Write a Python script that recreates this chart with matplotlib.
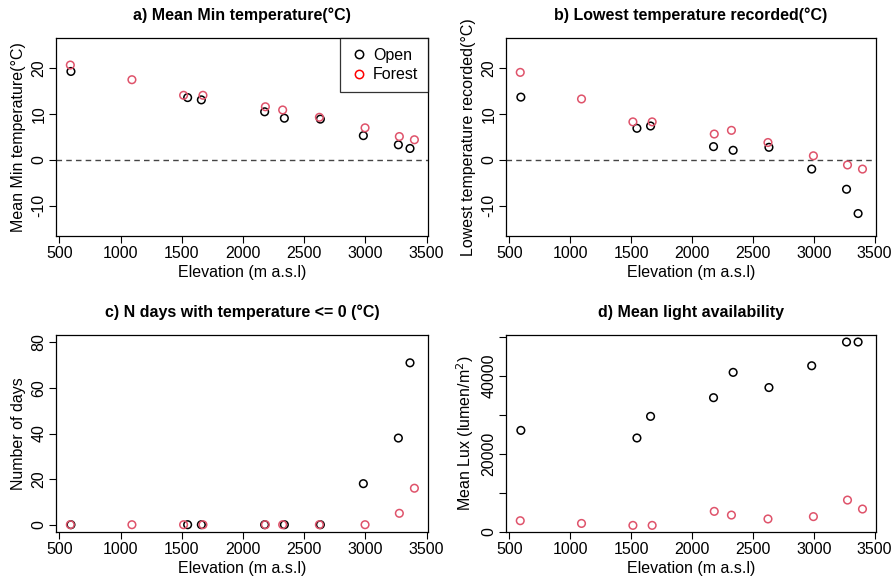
import matplotlib
matplotlib.use("Agg")
import matplotlib.pyplot as plt
from matplotlib.lines import Line2D

plt.rcParams['font.family'] = ['Liberation Sans', 'DejaVu Sans']
plt.rcParams['axes.unicode_minus'] = False

# elevations of the sites (m a.s.l)
elev_open = [595, 1548, 1660, 2177, 2338, 2632, 2983, 3269, 3364]
elev_forest = [590, 1093, 1515, 1673, 2183, 2324, 2624, 2997, 3277, 3400]

# a) mean min temperature
tmin_open = [19.3, 13.6, 13.1, 10.5, 9.1, 8.9, 5.3, 3.3, 2.5]
tmin_forest = [20.7, 17.5, 14.1, 14.1, 11.6, 10.9, 9.3, 7.0, 5.1, 4.4]

# b) lowest temperature recorded
tlow_open = [13.7, 6.9, 7.4, 2.9, 2.1, 2.75, -2.0, -6.4, -11.7]
tlow_forest = [19.1, 13.3, 8.3, 8.3, 5.65, 6.45, 3.8, 0.9, -1.1, -2.0]

# c) number of days with temperature <= 0
frost_open = [0, 0, 0, 0, 0, 0, 18, 38, 71]
frost_forest = [0, 0, 0, 0, 0, 0, 0, 0, 5, 16]

# d) mean light availability
lux_open = [26000, 24050, 29600, 34400, 40900, 37000, 42600, 48700, 48700]
lux_forest = [2800, 2100, 1600, 1600, 5200, 4250, 3250, 3850, 8100, 5800]

open_col = 'black'
forest_col = '#DF536B'

W, H = 896, 578
fig = plt.figure(figsize=(W / 100, H / 100), dpi=100)


def make_ax(left, top, right, bottom):
    return fig.add_axes([left / W, (H - bottom) / H, (right - left) / W, (bottom - top) / H])


def style(ax, title, ylabel):
    ax.set_title(title, fontsize=11.5, fontweight='bold', pad=13)
    ax.set_xlabel('Elevation (m a.s.l)', fontsize=11.5, labelpad=3)
    ax.set_ylabel(ylabel, fontsize=11.5, labelpad=4)
    ax.set_xlim(473, 3511)
    ax.set_xticks([500, 1000, 1500, 2000, 2500, 3000, 3500])
    ax.tick_params(labelsize=11.5, length=5, width=0.8, direction='out', pad=2)
    for lab in ax.get_yticklabels():
        lab.set_rotation(90)
        lab.set_va('center')
    for sp in ax.spines.values():
        sp.set_linewidth(0.9)


def points(ax, y_open, y_forest):
    ax.scatter(elev_open, y_open, s=30, facecolors='none', edgecolors=open_col, linewidths=1.1, zorder=3)
    ax.scatter(elev_forest, y_forest, s=30, facecolors='none', edgecolors=forest_col, linewidths=1.1, zorder=3)


ax_a = make_ax(56, 38, 428, 236)
ax_b = make_ax(506, 38, 876, 236)
ax_c = make_ax(56, 335, 428, 532)
ax_d = make_ax(506, 335, 876, 532)

# a
points(ax_a, tmin_open, tmin_forest)
ax_a.axhline(0, color='#444444', lw=1, ls=(0, (4, 3)))
ax_a.set_ylim(-16.6, 26.6)
ax_a.set_yticks([-10, 0, 10, 20])
style(ax_a, 'a) Mean Min temperature(°C)', 'Mean Min temperature(°C)')
handles = [Line2D([], [], ls='none', marker='o', mfc='none', mec='black', ms=6, mew=1.1),
           Line2D([], [], ls='none', marker='o', mfc='none', mec='red', ms=6, mew=1.1)]
leg = ax_a.legend(handles, ['Open', 'Forest'], loc='upper right', fontsize=11.5,
                  frameon=True, fancybox=False, edgecolor='black', borderaxespad=0,
                  handletextpad=0.3, borderpad=0.6, labelspacing=0.3, handlelength=1.2)
leg.get_frame().set_linewidth(0.9)

# b
points(ax_b, tlow_open, tlow_forest)
ax_b.axhline(0, color='#444444', lw=1, ls=(0, (4, 3)))
ax_b.set_ylim(-16.6, 26.6)
ax_b.set_yticks([-10, 0, 10, 20])
style(ax_b, 'b) Lowest temperature recorded(°C)', 'Lowest temperature recorded(°C)')

# c
points(ax_c, frost_open, frost_forest)
ax_c.set_ylim(-3.2, 83.2)
ax_c.set_yticks([0, 20, 40, 60, 80])
style(ax_c, 'c) N days with temperature <= 0 (°C)', 'Number of days')

# d
points(ax_d, lux_open, lux_forest)
ax_d.set_ylim(-100, 50500)
ax_d.set_yticks([0, 10000, 20000, 30000, 40000, 50000])
ax_d.set_yticklabels(['0', '', '20000', '', '40000', ''])
style(ax_d, 'd) Mean light availability', 'Mean Lux (lumen/m$^2$)')

fig.savefig('out.png', dpi=100)
